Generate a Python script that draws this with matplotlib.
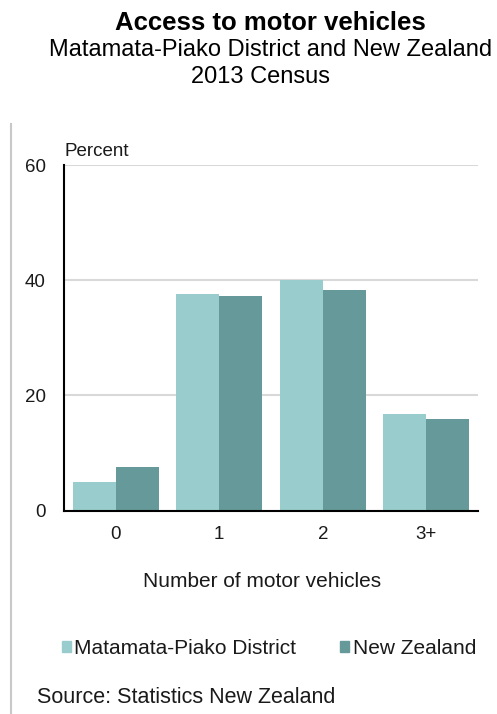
"""Access to motor vehicles: Matamata-Piako District vs New Zealand, 2013 Census."""

import matplotlib
matplotlib.use("Agg")
import matplotlib.pyplot as plt
import numpy as np
from matplotlib.lines import Line2D
from matplotlib.patches import Patch

# Data (percent of households)
categories = ["0", "1", "2", "3+"]
district = [4.9, 37.6, 40.0, 16.7]
new_zealand = [7.6, 37.2, 38.3, 16.0]
series_labels = ["Matamata-Piako District", "New Zealand"]
y_ticks = [0, 20, 40, 60]

LIGHT = "#99CCCC"
DARK = "#669999"
TEXT = "#1a1a1a"

plt.rcParams["font.family"] = ["Liberation Sans", "DejaVu Sans"]

fig = plt.figure(figsize=(4.97, 7.14), dpi=100)
ax = fig.add_axes([0.1288, 0.2847, 0.833, 0.4842])

x = np.arange(len(categories))
width = 0.415
ax.bar(x - width / 2, district, width, color=LIGHT, zorder=3)
ax.bar(x + width / 2, new_zealand, width, color=DARK, zorder=3)

ax.set_xlim(-0.5, len(categories) - 0.5)
ax.set_ylim(0, 60)
ax.set_yticks(y_ticks)
ax.set_xticks(x)
ax.set_xticklabels(categories)
ax.tick_params(axis="both", length=0, labelsize=13.5, labelcolor=TEXT)
ax.tick_params(axis="x", pad=11)
ax.tick_params(axis="y", pad=13)
ax.grid(axis="y", color="#D9D9D9", linewidth=1.5, zorder=1)

for side in ["top", "right"]:
    ax.spines[side].set_visible(False)
for side in ["left", "bottom"]:
    ax.spines[side].set_color("black")
    ax.spines[side].set_linewidth(1.5)
    ax.spines[side].set_zorder(4)

# "Percent" label above the y axis
ax.text(0, 1.025, "Percent", transform=ax.transAxes, fontsize=13.5,
        color=TEXT, ha="left", va="baseline")

# Titles
cx = 0.545
fig.text(cx, 0.968, "Access to motor vehicles", ha="center", va="center",
         fontsize=18.5, fontweight="bold", color="black")
fig.text(cx, 0.930, "Matamata-Piako District and New Zealand", ha="center",
         va="center", fontsize=17, color="black")
fig.text(0.525, 0.892, "2013 Census", ha="center", va="center",
         fontsize=17, color="black")

# x axis title
fig.text(0.527, 0.185, "Number of motor vehicles", ha="center", va="center",
         fontsize=15, color=TEXT)

# Legend
handles = [Patch(color=LIGHT), Patch(color=DARK)]
fig.legend(handles, series_labels, loc="center", bbox_to_anchor=(0.541, 0.0924),
           ncol=2, frameon=False, fontsize=15, handlelength=0.45,
           handleheight=0.45, handletextpad=0.15, columnspacing=2.1,
           labelcolor=TEXT)

# Source note
fig.text(0.0744, 0.0238, "Source: Statistics New Zealand", ha="left",
         va="center", fontsize=15.5, color=TEXT)

# Gray rule down the left edge
fig.add_artist(Line2D([0.0231, 0.0231], [0.0, 0.826], transform=fig.transFigure,
                      color="#C8C8C8", linewidth=1.5))

fig.savefig("out.png", dpi=100)
